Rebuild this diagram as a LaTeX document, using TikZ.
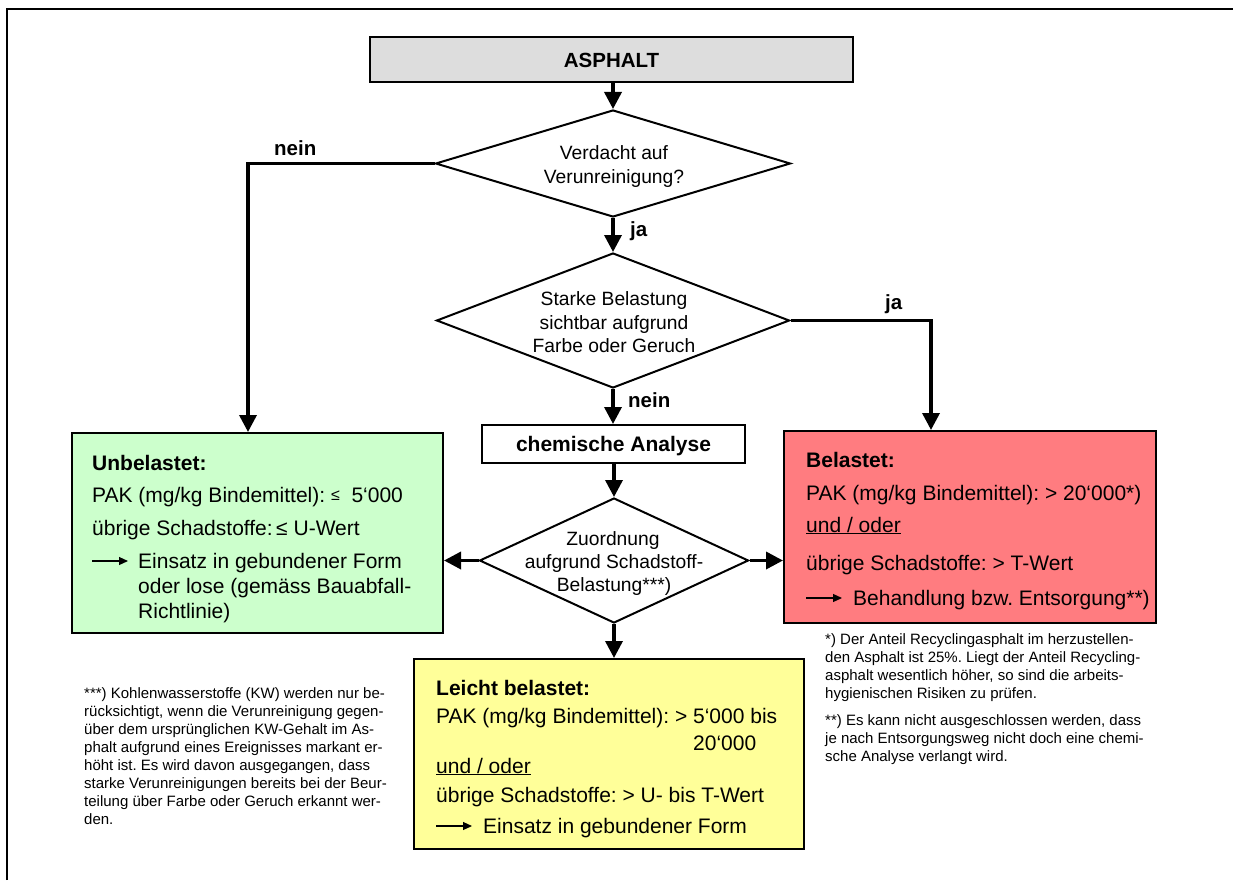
\documentclass[tikz,border=0pt]{standalone}
\usepackage{fontspec}
\setmainfont{Liberation Sans}
\usetikzlibrary{arrows.meta,shapes.geometric,calc}
\definecolor{gboxc}{HTML}{CCFFCC}
\definecolor{rboxc}{HTML}{FF7C80}
\definecolor{yboxc}{HTML}{FFFF99}
\definecolor{hboxc}{HTML}{DDDDDD}
\newcommand\fmain{\fontsize{21}{25}\selectfont}
\newcommand\fdia{\fontsize{19.25}{23}\selectfont}
\newcommand\flab{\fontsize{20.5}{24}\selectfont\bfseries}
\newcommand\ffoot{\fontsize{15}{18}\selectfont}
\frenchspacing
\begin{document}
\frenchspacing
\begin{tikzpicture}[x=1pt,y=-1pt,
  box/.style={draw, line width=2pt, inner sep=0pt},
  dia/.style={draw, diamond, line width=2pt, inner sep=0pt, fill=white},
  conn/.style={line width=3.5pt, -{Triangle[length=17pt,width=17pt]}},
  plain/.style={line width=3.5pt},
  txt/.style={anchor=base west, inner sep=0pt, font=\fmain},
  txtb/.style={anchor=base west, inner sep=0pt, font=\fmain\bfseries},
  dtxt/.style={anchor=base, inner sep=0pt, font=\fdia},
  lab/.style={anchor=base west, inner sep=0pt, font=\flab},
  foot/.style={anchor=base west, inner sep=0pt, font=\ffoot},
  tarrow/.style={line width=1.2pt, -{Triangle[length=9pt,width=8pt]}}]
\fill[white] (0,0) rectangle (1233,880);
\useasboundingbox (0,0) rectangle (1233,880);
% page frame
\draw[line width=2pt] (7,880) -- (7,9) -- (1233,9);

% boxes
\node[box, fill=hboxc, minimum width=483pt, minimum height=45pt] (asph) at (611.5,59.5) {};
\node[anchor=base, inner sep=0pt, font=\flab] (asphT) at (611.5,68) {ASPHALT};
\node[box, fill=white, minimum width=263pt, minimum height=38pt] (chem) at (613.5,444) {};
\node[anchor=base, inner sep=0pt, font=\fmain\bfseries] (chemT) at (613.5,451) {chemische Analyse};
\node[box, fill=gboxc, minimum width=371pt, minimum height=200pt] (green) at (257.5,533) {};
\node[box, fill=rboxc, minimum width=372pt, minimum height=192pt] (red) at (970,527) {};
\node[box, fill=yboxc, minimum width=390pt, minimum height=190pt] (yellow) at (609,754) {};

% diamonds
\node[dia, minimum width=355pt, minimum height=107pt] (d1) at (613,163.5) {};
\node[dia, minimum width=353pt, minimum height=135pt] (d2) at (613,320.5) {};
\node[dia, minimum width=269pt, minimum height=125pt] (d3) at (614,560.5) {};
\node[dtxt] (d1a) at (614,159) {Verdacht auf};
\node[dtxt] (d1b) at (614,183) {Verunreinigung?};
\node[dtxt] (d2a) at (614,305.5) {Starke Belastung};
\node[dtxt] (d2b) at (614,329) {sichtbar aufgrund};
\node[dtxt] (d2c) at (614,352) {Farbe oder Geruch};
\node[dtxt] (d3a) at (613,545) {Zuordnung};
\node[dtxt] (d3b) at (614,568) {aufgrund Schadstoff-};
\node[dtxt] (d3c) at (614,591.5) {Belastung***)};

% connectors
\draw[conn] (d1.north |- asph.south) -- (d1.north);
\draw[conn] (d1.south) -- (d2.north);
\coordinate (nk) at (248,163.5);
\draw[conn] (d1.west) -- (nk) -- (nk |- green.north);
\coordinate (jk) at (931,320.5);
\draw[conn] (d2.east) -- (jk) -- (jk |- red.north);
\draw[conn] (d2.south) -- (d2.south |- chem.north);
\draw[conn] (d3.north |- chem.south) -- (d3.north);
\draw[conn] (d3.west) -- (d3.west -| green.east);
\draw[conn] (d3.east) -- (d3.east -| red.west);
\draw[conn] (d3.south) -- (d3.south |- yellow.north);

% labels
\node[lab] (lnein1) at (274,155) {nein};
\node[lab] (lja1) at (630,236) {ja};
\node[lab] (lja2) at (885,309) {ja};
\node[lab] (lnein2) at (628,407) {nein};

% green text
\node[txtb] (g1) at (92,470) {Unbelastet:};
\node[txt] (g2) at (92,502) {PAK (mg/kg Bindemittel): {\fontsize{16}{16}\selectfont\raisebox{2pt}{≤}}\ \ 5‘000};
\node[txt] (g3) at (92,535) {übrige Schadstoffe:\,≤ U-Wert};
\draw[tarrow] (92,561) -- (128,561);
\node[txt] (g4) at (138,568) {Einsatz in gebundener Form};
\node[txt] (g5) at (138,593) {oder lose (gemäss Bauabfall-};
\node[txt] (g6) at (138,618) {Richtlinie)};

% red text
\node[txtb] (r1) at (806,467) {Belastet:};
\node[txt] (r2) at (806,500) {PAK (mg/kg Bindemittel): > 20‘000*)};
\node[txt] (r3) at (806,532) {\underline{und / oder}};
\node[txt] (r4) at (806,570) {übrige Schadstoffe: > T-Wert};
\draw[tarrow] (806,598) -- (842,598);
\node[txt] (r5) at (853,605) {Behandlung bzw. Entsorgung**)};

% yellow text
\node[txtb] (y1) at (436,695) {Leicht belastet:};
\node[txt] (y2) at (436,723) {PAK (mg/kg Bindemittel): > 5‘000 bis};
\node[txt] (y3) at (693,750) {20‘000};
\node[txt] (y4) at (436,773) {\underline{und / oder}};
\node[txt] (y5) at (436,802) {übrige Schadstoffe: > U- bis T-Wert};
\draw[tarrow] (436,826) -- (472,826);
\node[txt] (y6) at (483,833) {Einsatz in gebundener Form};

% footnotes left
\foreach \t [count=\i] in {
  {***) Kohlenwasserstoffe (KW) werden nur be-},
  {rücksichtigt, wenn die Verunreinigung gegen-},
  {über dem ursprünglichen KW-Gehalt im As-},
  {phalt aufgrund eines Ereignisses markant er-},
  {höht ist. Es wird davon ausgegangen, dass},
  {starke Verunreinigungen bereits bei der Beur-},
  {teilung über Farbe oder Geruch erkannt wer-},
  {den.}}
  {\node[foot] (fl\i) at (84,{698+18*(\i-1)}) {\t};}

% footnotes right
\foreach \t [count=\i] in {
  {*) Der Anteil Recyclingasphalt im herzustellen-},
  {den Asphalt ist 25\%. Liegt der Anteil Recycling-},
  {asphalt wesentlich höher, so sind die arbeits-},
  {hygienischen Risiken zu prüfen.}}
  {\node[foot] (fr\i) at (825,{644+18*(\i-1)}) {\t};}
\foreach \t [count=\i] in {
  {**) Es kann nicht ausgeschlossen werden, dass},
  {je nach Entsorgungsweg nicht doch eine chemi-},
  {sche Analyse verlangt wird.}}
  {\node[foot] (fs\i) at (825,{725+18*(\i-1)}) {\t};}
\end{tikzpicture}
\end{document}
